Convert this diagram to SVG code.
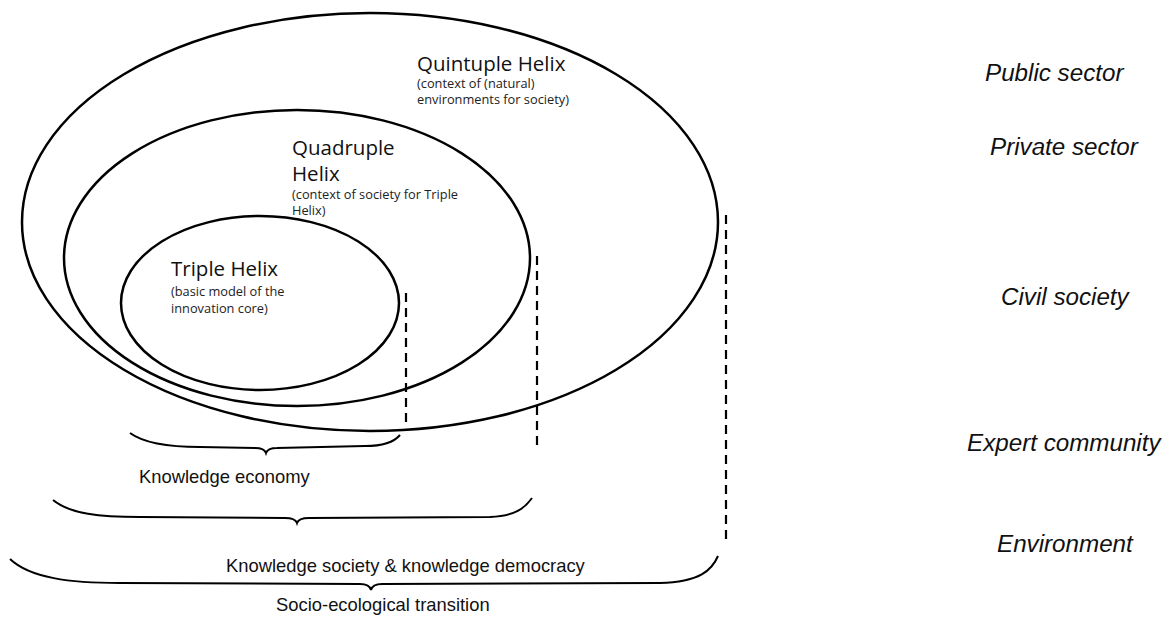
<svg xmlns="http://www.w3.org/2000/svg" width="1176" height="617" viewBox="0 0 1176 617">
<style>
.ell{fill:none;stroke:#000;stroke-width:2.5}
.dash{fill:none;stroke:#000;stroke-width:2.2;stroke-dasharray:9,6}
.brace{fill:none;stroke:#000;stroke-width:2}
.title{font-family:"Open Sans","Noto Sans",sans-serif;font-size:20.5px;fill:#111}
.sub{font-family:"Open Sans","Noto Sans",sans-serif;font-size:12.8px;fill:#222}
.lbl{font-family:"Liberation Sans",Arial,sans-serif;font-size:18.4px;fill:#111}
.side{font-family:"Liberation Sans",Arial,sans-serif;font-size:24.2px;font-style:italic;fill:#111}
</style>
<rect width="1176" height="617" fill="#fff"/>
<g id="quintuple">
<ellipse class="ell" cx="370" cy="222" rx="348" ry="209"/>
<text class="title" x="417" y="71">Quintuple Helix</text>
<text class="sub" x="417" y="88">(context of (natural)</text>
<text class="sub" x="417" y="104">environments for society)</text>
</g>
<g id="quadruple">
<ellipse class="ell" cx="297" cy="258" rx="233" ry="148"/>
<text class="title" x="292" y="155">Quadruple</text>
<text class="title" x="292" y="181">Helix</text>
<text class="sub" x="292" y="199">(context of society for Triple</text>
<text class="sub" x="292" y="215">Helix)</text>
</g>
<g id="triple">
<ellipse class="ell" cx="260" cy="303" rx="139" ry="87"/>
<text class="title" x="171" y="276">Triple Helix</text>
<text class="sub" x="171" y="296">(basic model of the</text>
<text class="sub" x="171" y="313">innovation core)</text>
</g>
<g id="connectors">
<line class="dash" x1="406" y1="293" x2="406" y2="422"/>
<line class="dash" x1="537" y1="256" x2="537" y2="448"/>
<line class="dash" x1="726" y1="215" x2="726" y2="545"/>
<path class="brace" d="M130,433 C145,444 170,447 200,447 L255,448 C262,448 265,450 266,453 C267,450 270,448 277,448 L365,446 C385,446 395,441 400,435"/>
<path class="brace" d="M53,500 C70,514 100,517 140,517 L285,518 C292,518 296,520 297,523 C298,520 302,518 309,518 L490,517 C515,516 525,508 532,498"/>
<path class="brace" d="M10,559 C30,578 70,583 120,583 L360,584 C367,584 370,586 371,590 C372,586 375,584 382,584 L660,583 C700,582 712,570 718,556"/>
</g>
<g id="knowledge-economy"><text class="lbl" x="139" y="483">Knowledge economy</text></g>
<g id="knowledge-society"><text class="lbl" x="226" y="572">Knowledge society &amp; knowledge democracy</text></g>
<g id="socio-ecological"><text class="lbl" x="276" y="611">Socio-ecological transition</text></g>
<g id="public-sector"><text class="side" x="985" y="81">Public sector</text></g>
<g id="private-sector"><text class="side" x="990" y="155">Private sector</text></g>
<g id="civil-society"><text class="side" x="1001" y="305">Civil society</text></g>
<g id="expert-community"><text class="side" x="967" y="451">Expert community</text></g>
<g id="environment"><text class="side" x="997" y="552">Environment</text></g>
</svg>
